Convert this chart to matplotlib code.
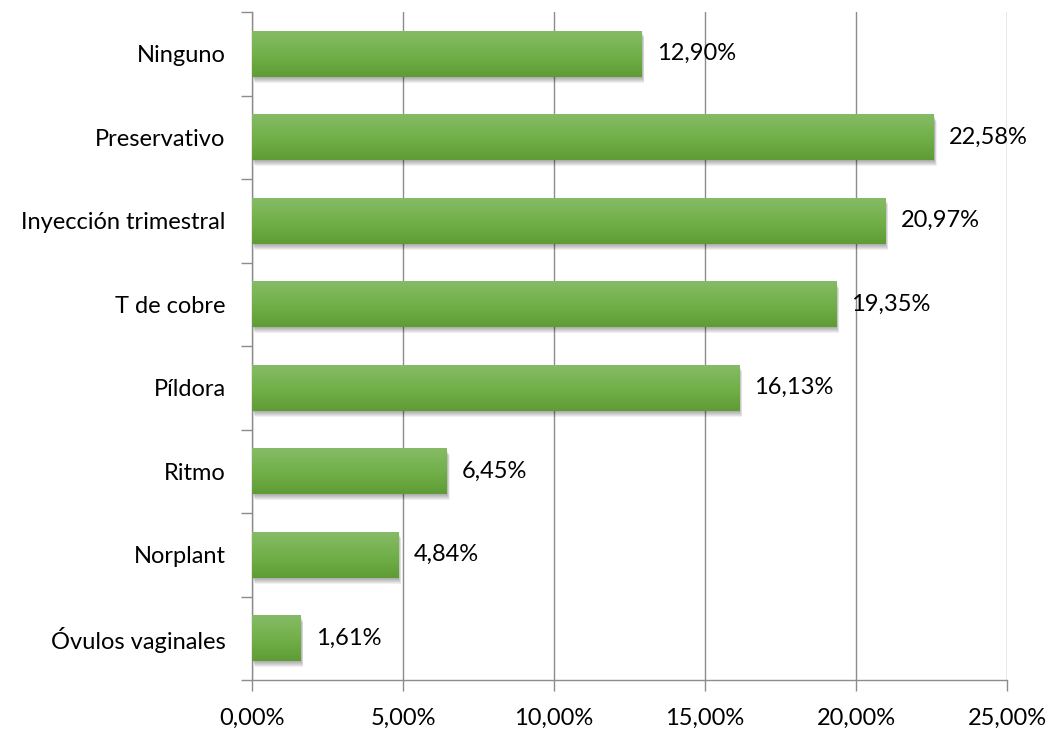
import matplotlib
matplotlib.use("Agg")
import matplotlib.pyplot as plt
from matplotlib.patches import Rectangle
from matplotlib.ticker import FixedLocator, FuncFormatter
from matplotlib.colors import LinearSegmentedColormap
import numpy as np

plt.rcParams['font.family'] = ['Lato', 'DejaVu Sans']

categories = ["Ninguno", "Preservativo", "Inyección trimestral", "T de cobre",
              "Píldora", "Ritmo", "Norplant", "Óvulos vaginales"]
values = [12.90, 22.58, 20.97, 19.35, 16.13, 6.45, 4.84, 1.61]
xticks = [0, 5, 10, 15, 20, 25]

GRID = "#8c8c8c"
TOP = "#86bb66"
BOT = "#5f9c36"
FS = 17

fig = plt.figure(figsize=(10.51, 7.51), dpi=100)
ax = fig.add_axes([252 / 1051, 1 - 680 / 751, (1007 - 252) / 1051, (680 - 12) / 751])

n = len(categories)
ypos = np.arange(n)[::-1]  # first category on top
h = 0.55

# vertical gradient for the bars (row 0 = top colour)
grad = np.linspace(0, 1, 64).reshape(-1, 1)
cmap = LinearSegmentedColormap.from_list("g", [TOP, "#72b04a", BOT])

for y, v in zip(ypos, values):
    # soft shadow
    for k in range(6):
        ax.add_patch(Rectangle((0.02 + k * 0.015, y - h / 2 - 0.015 - k * 0.012), v,
                               h, facecolor="black", alpha=0.06, lw=0, zorder=2))
    bar = ax.barh(y, v, height=h, color="none", zorder=3)[0]
    im = ax.imshow(grad, cmap=cmap, aspect="auto", zorder=3.5, origin="upper",
                   extent=(0, v, y - h / 2, y + h / 2))
    im.set_clip_path(bar)
    ax.text(v + 0.5, y, f"{v:.2f}%".replace(".", ","), va="center", ha="left",
            fontsize=FS, color="black", zorder=5)

ax.set_xlim(0, 25)
ax.set_ylim(-0.5, n - 0.5)

ax.xaxis.set_major_locator(FixedLocator(xticks))
ax.xaxis.set_major_formatter(FuncFormatter(lambda x, p: f"{x:.2f}%".replace(".", ",")))
ax.grid(axis="x", color=GRID, lw=1.0, zorder=1)
ax.set_axisbelow(True)

ax.set_yticks(ypos)
ax.set_yticklabels(categories)
ax.yaxis.set_minor_locator(FixedLocator(np.arange(-0.5, n, 1.0)))
ax.tick_params(axis="y", which="major", length=0, pad=19, labelsize=FS)
ax.tick_params(axis="y", which="minor", length=8, color=GRID, width=1)
ax.tick_params(axis="x", length=8, color=GRID, width=1, pad=12, labelsize=FS)

for s in ["top", "right"]:
    ax.spines[s].set_visible(False)
for s in ["left", "bottom"]:
    ax.spines[s].set_color(GRID)
    ax.spines[s].set_linewidth(1.0)

fig.savefig("out.png", dpi=100)
